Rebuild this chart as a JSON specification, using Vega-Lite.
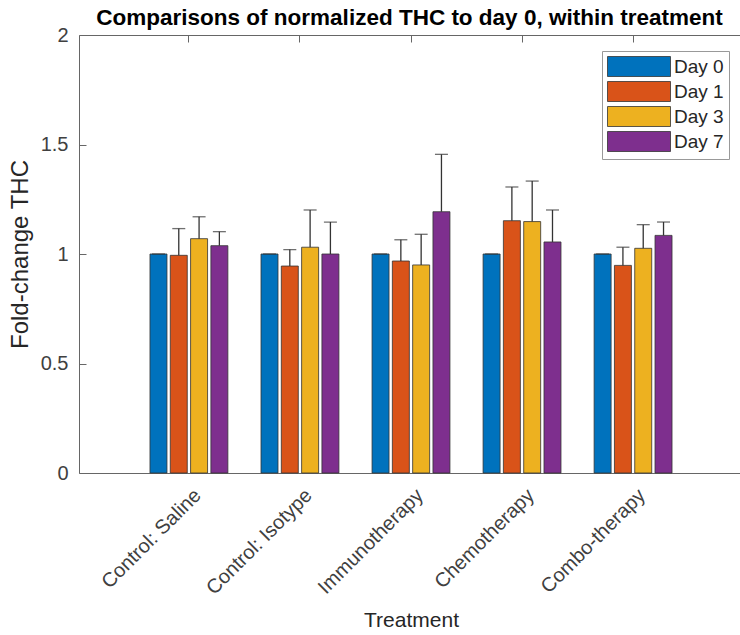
{
  "$schema": "https://vega.github.io/schema/vega-lite/v6.json",
  "autosize": "none",
  "padding": {"left": 79, "top": 35, "right": 0, "bottom": 162},
  "width": 661,
  "height": 438,
  "background": "white",
  "config": {
    "view": {"stroke": null},
    "font": "Liberation Sans",
    "axis": {"grid": false}
  },
  "title": {
    "text": "Comparisons of normalized THC to day 0, within treatment",
    "fontSize": 22.5,
    "fontWeight": "bold",
    "color": "#000000",
    "offset": -4,
    "anchor": "middle",
    "frame": "group"
  },
  "data": {
    "values": [
      {"treatment": "Control: Saline", "day": "Day 0", "value": 1.0, "upper": 1.0},
      {"treatment": "Control: Saline", "day": "Day 1", "value": 0.994, "upper": 1.116},
      {"treatment": "Control: Saline", "day": "Day 3", "value": 1.07, "upper": 1.17},
      {"treatment": "Control: Saline", "day": "Day 7", "value": 1.038, "upper": 1.102},
      {"treatment": "Control: Isotype", "day": "Day 0", "value": 1.0, "upper": 1.0},
      {"treatment": "Control: Isotype", "day": "Day 1", "value": 0.945, "upper": 1.02},
      {"treatment": "Control: Isotype", "day": "Day 3", "value": 1.031, "upper": 1.201},
      {"treatment": "Control: Isotype", "day": "Day 7", "value": 1.0, "upper": 1.146},
      {"treatment": "Immunotherapy", "day": "Day 0", "value": 1.0, "upper": 1.0},
      {"treatment": "Immunotherapy", "day": "Day 1", "value": 0.968, "upper": 1.065},
      {"treatment": "Immunotherapy", "day": "Day 3", "value": 0.95, "upper": 1.09},
      {"treatment": "Immunotherapy", "day": "Day 7", "value": 1.193, "upper": 1.455},
      {"treatment": "Chemotherapy", "day": "Day 0", "value": 1.0, "upper": 1.0},
      {"treatment": "Chemotherapy", "day": "Day 1", "value": 1.152, "upper": 1.306},
      {"treatment": "Chemotherapy", "day": "Day 3", "value": 1.148, "upper": 1.333},
      {"treatment": "Chemotherapy", "day": "Day 7", "value": 1.055, "upper": 1.201},
      {"treatment": "Combo-therapy", "day": "Day 0", "value": 1.0, "upper": 1.0},
      {"treatment": "Combo-therapy", "day": "Day 1", "value": 0.948, "upper": 1.031},
      {"treatment": "Combo-therapy", "day": "Day 3", "value": 1.026, "upper": 1.134},
      {"treatment": "Combo-therapy", "day": "Day 7", "value": 1.085, "upper": 1.146}
    ]
  },
  "layer": [
    {
      "mark": {"type": "bar", "stroke": "#333333", "strokeWidth": 0.8},
      "encoding": {
        "x": {
          "field": "treatment", "type": "nominal",
          "sort": ["Control: Saline", "Control: Isotype", "Immunotherapy", "Chemotherapy", "Combo-therapy"],
          "scale": {"range": [0, 664], "paddingInner": 0, "paddingOuter": 0.49},
          "axis": {
            "orient": "bottom",
            "title": "Treatment",
            "labelAngle": -45,
            "labelAlign": "right",
            "labelBaseline": "middle",
            "labelFontSize": 20,
            "labelColor": "#404040",
            "labelPadding": 19,
            "labelOffset": 9,
            "ticks": false,
            "domainColor": "#666666",
            "titleFontSize": 21,
            "titleFontWeight": "normal",
            "titleColor": "#262626",
            "titlePadding": 11
          }
        },
        "xOffset": {
          "field": "day", "type": "nominal",
          "sort": ["Day 0", "Day 1", "Day 3", "Day 7"],
          "scale": {"paddingInner": 0.163, "paddingOuter": 0.816}
        },
        "y": {
          "field": "value", "type": "quantitative",
          "title": "Fold-change THC",
          "scale": {"domain": [0, 2], "nice": false},
          "axis": {
            "title": "Fold-change THC",
            "values": [0, 0.5, 1, 1.5, 2],
            "format": "~g",
            "labelFontSize": 20,
            "labelColor": "#404040",
            "labelPadding": 18,
            "tickSize": -7,
            "tickColor": "#666666",
            "domainColor": "#666666",
            "titleFontSize": 24,
            "titleFontWeight": "normal",
            "titleColor": "#262626",
            "titlePadding": 8
          }
        },
        "color": {
          "field": "day", "type": "nominal",
          "scale": {"domain": ["Day 0", "Day 1", "Day 3", "Day 7"], "range": ["#0072BD", "#D95319", "#EDB120", "#7E2F8E"]},
          "legend": {
            "orient": "none",
            "legendX": 523,
            "legendY": 16,
            "title": null,
            "symbolType": "M-1,-1H5.3V1H-1Z",
            "symbolSize": 400,
            "symbolStrokeColor": "#333333",
            "symbolStrokeWidth": 0.8,
            "symbolOpacity": 1,
            "labelFontSize": 19,
            "labelColor": "#262626",
            "labelOffset": 46,
            "padding": 5,
            "rowPadding": 0,
            "strokeColor": "#999999",
            "fillColor": "white"
          }
        }
      }
    },
    {
      "mark": {"type": "rule", "color": "#333333", "strokeWidth": 1.3},
      "encoding": {
        "x": {"field": "treatment", "type": "nominal", "sort": ["Control: Saline", "Control: Isotype", "Immunotherapy", "Chemotherapy", "Combo-therapy"], "axis": null},
        "xOffset": {"field": "day", "type": "nominal", "sort": ["Day 0", "Day 1", "Day 3", "Day 7"]},
        "y": {"field": "value", "type": "quantitative", "title": "Fold-change THC"},
        "y2": {"field": "upper"}
      }
    },
    {
      "mark": {"type": "tick", "color": "#333333", "thickness": 1.3, "size": 13, "orient": "horizontal"},
      "encoding": {
        "x": {
          "field": "treatment", "type": "nominal",
          "sort": ["Control: Saline", "Control: Isotype", "Immunotherapy", "Chemotherapy", "Combo-therapy"],
          "axis": {"orient": "top", "title": null, "labels": false, "tickSize": -7, "tickColor": "#666666", "domainColor": "#666666"}
        },
        "xOffset": {"field": "day", "type": "nominal", "sort": ["Day 0", "Day 1", "Day 3", "Day 7"]},
        "y": {"field": "upper", "type": "quantitative", "title": "Fold-change THC"}
      }
    }
  ],
  "resolve": {"axis": {"x": "independent"}}
}
